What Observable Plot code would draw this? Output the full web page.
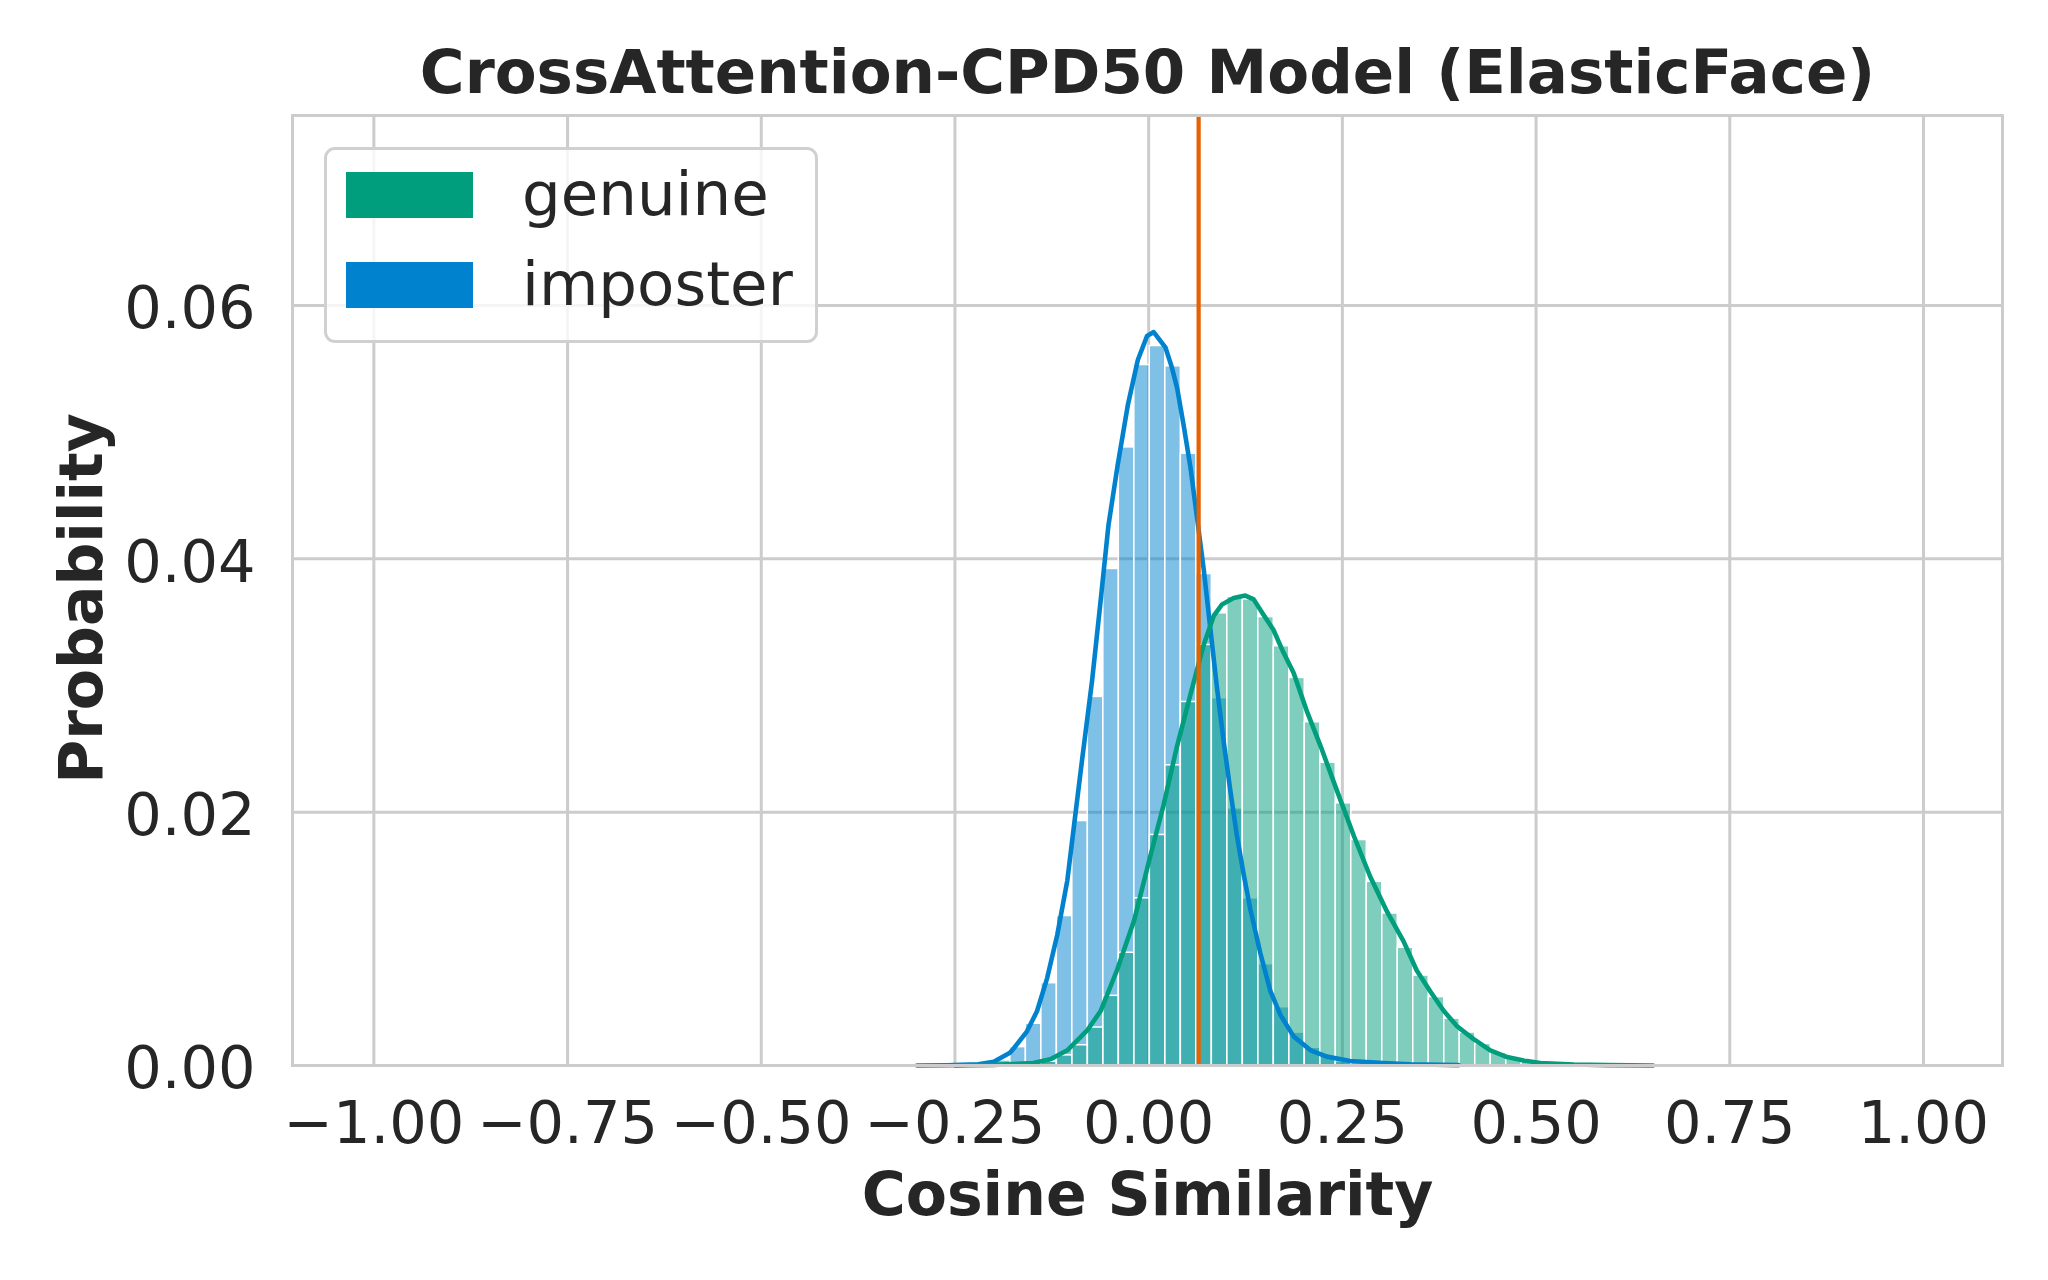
<!DOCTYPE html>
<html>
<head>
<meta charset="utf-8">
<script src="https://cdn.jsdelivr.net/npm/d3@7"></script>
<script src="https://cdn.jsdelivr.net/npm/@observablehq/plot@0.6"></script>
<style>
  html, body { margin: 0; padding: 0; background: #ffffff; }
  #wrap { position: relative; width: 2048px; height: 1280px; font-family: "DejaVu Sans", sans-serif; color: #262626; }
  #legend { position: absolute; left: 324px; top: 147px; width: 488px; height: 190px;
            border: 3px solid #d0d0d0; border-radius: 11px; background: rgba(255,255,255,0.8); }
  .item { position: absolute; left: 19px; height: 46px; }
  .sw { position: absolute; left: 0; top: 0; width: 127px; height: 46px; }
  .lab { position: absolute; left: 176px; font-size: 61px; line-height: 1; white-space: nowrap; }
</style>
</head>
<body>
<div id="wrap"></div>
<script>
// ---- data ----
const seriesNames = ["genuine", "imposter"];
const seriesColors = ["#009e7c", "#0082ce"];
const thresholdColor = "#e66100";

const binStart = -0.2985;   // left edge of first bin
const binWidth = 0.02;

// probability per bin (common-normalised), starting at binStart
const genuineBins = [0, 0, 0, 0.000005, 0.00001, 0.00002, 0.00005, 0.0001, 0.0003, 0.0008,
  0.0016, 0.0030, 0.0055, 0.0089, 0.0132, 0.0182, 0.0237, 0.0287, 0.0332, 0.0357,
  0.0370, 0.0368, 0.0354, 0.0331, 0.0306, 0.0271, 0.0239, 0.0207, 0.0178, 0.0145,
  0.0120, 0.0093, 0.0071, 0.0054, 0.0037, 0.0026, 0.0017, 0.0010, 0.0006, 0.0003,
  0.00013, 0.00008, 0.00005, 0.00003, 0.00002, 0.00001, 0.00001, 0.000005];
const imposterBins = [0.000005, 0.00001, 0.00002, 0.00004, 0.0001, 0.0004, 0.00145, 0.0033, 0.0065, 0.0118,
  0.0193, 0.0291, 0.0392, 0.0488, 0.0553, 0.0568, 0.0552, 0.0483, 0.0388, 0.0290,
  0.0203, 0.0132, 0.0080, 0.0046, 0.0026, 0.0014, 0.0007, 0.0003, 0.00015, 0.00007,
  0.00003, 0.00001, 0.000005];

// KDE curves
const genuineKdeX = [-0.25, -0.20, -0.149, -0.127, -0.105, -0.079, -0.062, -0.041, -0.019, 0.002,
  0.0194, 0.0366, 0.054, 0.071, 0.084, 0.0947, 0.1097, 0.1248, 0.1355, 0.148,
  0.161, 0.174, 0.187, 0.204, 0.222, 0.243, 0.265, 0.286, 0.308, 0.329,
  0.346, 0.364, 0.381, 0.398, 0.419, 0.441, 0.4626, 0.484, 0.5055, 0.549, 0.592, 0.651];
const genuineKdeY = [0, 0.00005, 0.0002, 0.0005, 0.0012, 0.0028, 0.0043, 0.0075, 0.0114, 0.0165,
  0.0206, 0.0252, 0.0293, 0.0332, 0.0355, 0.0364, 0.0369, 0.0371, 0.0368, 0.0356,
  0.0344, 0.0326, 0.0310, 0.0280, 0.0252, 0.0217, 0.0181, 0.0149, 0.0121, 0.0098,
  0.0075, 0.0058, 0.0043, 0.0031, 0.0021, 0.0012, 0.00067, 0.0004, 0.0002, 0.00008, 0.00003, 0];
const imposterKdeX = [-0.299, -0.26, -0.243, -0.22, -0.200, -0.179, -0.1735, -0.157, -0.144, -0.131,
  -0.118, -0.105, -0.097, -0.086, -0.073, -0.062, -0.052, -0.040, -0.027, -0.014,
  -0.002, 0.0065, 0.0216, 0.030, 0.0367, 0.045, 0.054, 0.0625, 0.071, 0.0796,
  0.088, 0.097, 0.1054, 0.114, 0.1226, 0.131, 0.144, 0.157, 0.170, 0.187,
  0.209, 0.230, 0.260, 0.303, 0.338, 0.40];
const imposterKdeY = [0, 0.00002, 0.00005, 0.0001, 0.0003, 0.0010, 0.0014, 0.0027, 0.0043, 0.0069,
  0.0103, 0.0146, 0.0186, 0.0241, 0.0304, 0.0367, 0.0426, 0.0474, 0.0521, 0.0557,
  0.0576, 0.0579, 0.0567, 0.0551, 0.0535, 0.0506, 0.0472, 0.0432, 0.0392, 0.0345,
  0.0299, 0.0255, 0.0217, 0.0181, 0.0151, 0.0124, 0.0089, 0.0059, 0.0040, 0.0023,
  0.0012, 0.0007, 0.00035, 0.0002, 0.0001, 0.00003];

const threshold = 0.0645;
const xTicks = [-1.00, -0.75, -0.50, -0.25, 0.00, 0.25, 0.50, 0.75, 1.00];
const yTicks = [0.00, 0.02, 0.04, 0.06];
const xDomain = [-1.105, 1.102];
const yDomain = [0, 0.075];
const titleText = "CrossAttention-CPD50 Model (ElasticFace)";
const xLabel = "Cosine Similarity";
const yLabel = "Probability";

// ---- build tables ----
const toBins = (arr, name) => arr.map((v, i) => ({x0: binStart + i * binWidth, x1: binStart + (i + 1) * binWidth, v, name})).filter(d => d.v > 0);
const toCurve = (xs, ys, name) => xs.map((x, i) => ({x, y: ys[i], name}));
const genBins = toBins(genuineBins, "genuine");
const impBins = toBins(imposterBins, "imposter");
const genCurve = toCurve(genuineKdeX, genuineKdeY, "genuine");
const impCurve = toCurve(imposterKdeX, imposterKdeY, "imposter");
const fmt = d3.format(".2f");
const grid = {stroke: "#cccccc", strokeOpacity: 1, strokeWidth: 3};

const chart = Plot.plot({
  width: 2048,
  height: 1280,
  marginLeft: 292,
  marginRight: 46,
  marginTop: 115,
  marginBottom: 215,
  style: {fontFamily: "DejaVu Sans", fontSize: "59px", color: "#262626", background: "#ffffff", overflow: "visible"},
  x: {domain: xDomain, label: null},
  y: {domain: yDomain, label: null},
  marks: [
    Plot.gridX(xTicks, grid),
    Plot.gridY(yTicks, grid),
    Plot.rect(impBins, {x1: "x0", x2: "x1", y1: 0, y2: "v", fill: seriesColors[1], fillOpacity: 0.5, stroke: "#ffffff", strokeWidth: 1.5}),
    Plot.rect(genBins, {x1: "x0", x2: "x1", y1: 0, y2: "v", fill: seriesColors[0], fillOpacity: 0.5, stroke: "#ffffff", strokeWidth: 1.5}),
    Plot.line(impCurve, {x: "x", y: "y", stroke: seriesColors[1], strokeWidth: 4.6}),
    Plot.line(genCurve, {x: "x", y: "y", stroke: seriesColors[0], strokeWidth: 4.6}),
    Plot.ruleX([threshold], {stroke: thresholdColor, strokeWidth: 4.2}),
    Plot.frame({stroke: "#cccccc", strokeWidth: 3}),
    Plot.axisX(xTicks, {tickFormat: fmt, tickSize: 0, tickPadding: 36, label: null, fill: "#262626"}),
    Plot.axisY(yTicks, {tickFormat: fmt, tickSize: 0, tickPadding: 37, label: null, fill: "#262626", dy: 4}),
    Plot.text([titleText], {text: d => d, frameAnchor: "top", dy: -23, lineAnchor: "bottom", fontWeight: "bold", fontSize: 61, fill: "#262626"}),
    Plot.text([xLabel], {text: d => d, frameAnchor: "bottom", dy: 149, lineAnchor: "bottom", fontWeight: "bold", fontSize: 60, fill: "#262626"}),
    Plot.text([yLabel], {text: d => d, frameAnchor: "left", textAnchor: "middle", dx: -191, dy: 8, rotate: -90, lineAnchor: "bottom", fontWeight: "bold", fontSize: 60, fill: "#262626"})
  ]
});
const wrap = document.getElementById("wrap");
wrap.appendChild(chart);

// legend
const legend = document.createElement("div");
legend.id = "legend";
seriesNames.forEach((name, i) => {
  const item = document.createElement("div");
  item.className = "item";
  item.style.top = (22 + i * 90) + "px";
  const sw = document.createElement("div");
  sw.className = "sw";
  sw.style.background = seriesColors[i];
  const lab = document.createElement("div");
  lab.className = "lab";
  lab.style.top = "-9px";
  lab.textContent = name;
  item.appendChild(sw);
  item.appendChild(lab);
  legend.appendChild(item);
});
wrap.appendChild(legend);
</script>
</body>
</html>
